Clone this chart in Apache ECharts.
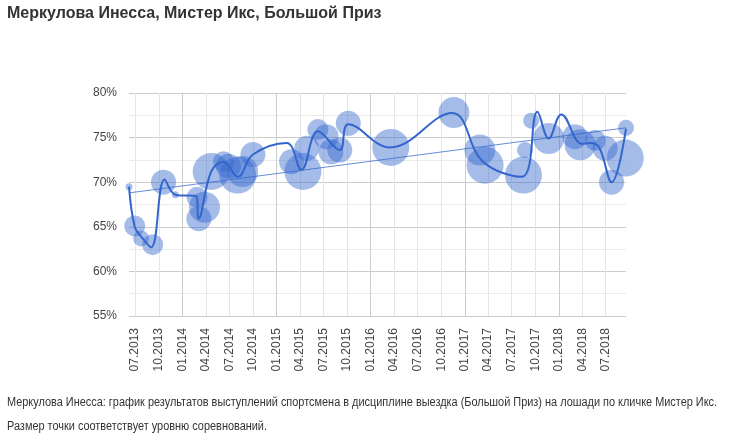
<!DOCTYPE html>
<html>
<head>
<meta charset="utf-8">
<script src="https://cdn.jsdelivr.net/npm/echarts@6/dist/echarts.min.js"></script>
<style>
html,body{margin:0;padding:0;background:#fff;}
#c{width:740px;height:443px;}
</style>
</head>
<body>
<div id="c"></div>
<script>
// ---- data ----
const titleText = 'Меркулова Инесса, Мистер Икс, Большой Приз';
const captionLine1 = 'Меркулова Инесса: график результатов выступлений спортсмена в дисциплине выездка (Большой Приз) на лошади по кличке Мистер Икс.';
const captionLine2 = 'Размер точки соответствует уровню соревнований.';

const tickLabels = ['07.2013','10.2013','01.2014','04.2014','07.2014','10.2014','01.2015','04.2015','07.2015','10.2015',
  '01.2016','04.2016','07.2016','10.2016','01.2017','04.2017','07.2017','10.2017','01.2018','04.2018','07.2018'];
const yTicks = [55, 60, 65, 70, 75, 80];

const bubbleDates = ['2013-06-07','2013-06-29','2013-07-24','2013-09-07','2013-10-19','2013-12-04','2014-02-26','2014-03-05',
  '2014-03-27','2014-04-22','2014-06-09','2014-06-28','2014-08-03','2014-08-22','2014-10-01','2015-02-28','2015-04-13',
  '2015-04-28','2015-06-10','2015-07-12','2015-07-31','2015-09-03','2015-10-06','2016-03-19','2016-11-19','2017-02-28',
  '2017-03-20','2017-08-16','2017-08-22','2017-09-15','2017-11-22','2018-03-04','2018-03-24','2018-05-22','2018-06-29',
  '2018-07-24','2018-09-15','2018-09-18'];
const bubbleValues = [69.5,65.1,63.7,63.0,70.0,68.6,68.3,65.9,
  67.2,71.2,72.3,71.8,70.8,71.2,73.1,72.3,71.2,
  73.8,75.9,75.1,73.4,73.6,76.6,73.9,77.8,73.6,
  71.9,70.8,73.6,76.9,74.9,75.1,74.2,74.7,73.8,
  70.0,72.7,76.1];
const bubbleLevels = [1,3,2,3,4,1,3,4,
  5,6,3,4,6,5,4,4,6,
  4,3,4,4,4,4,6,5,5,
  6,6,2,2,5,4,5,3,4,
  4,6,2];

const lineDates = ['2013-06-07','2013-06-29','2013-07-24','2013-09-01','2013-10-23','2013-12-04','2014-02-24','2014-03-04',
  '2014-04-22','2014-06-09','2014-08-03','2014-10-01','2015-02-09','2015-04-07','2015-06-10','2015-09-03','2015-10-06',
  '2016-03-16','2016-11-12','2017-03-12','2017-08-10','2017-10-09','2017-11-22','2018-01-10','2018-03-31','2018-05-01',
  '2018-06-06','2018-07-24','2018-09-18'];
const lineValues = [69.5,65.0,63.9,62.7,70.3,68.6,68.4,65.9,
  71.2,72.3,70.6,73.1,74.4,71.4,75.7,73.6,76.5,
  73.9,77.75,72.3,70.6,77.9,74.9,77.6,74.3,74.4,
  73.9,70.0,76.0];

const trendDates = ['2013-06-07','2018-09-18'];
const trendValues = [68.8, 76.1];

// ---- styling / mapping ----
const levelDiameter = {1:7, 2:16, 3:21, 4:25, 5:31, 6:37};
function toTime(s){ const p = s.split('-'); return new Date(+p[0], +p[1]-1, +(p[2]||1)).getTime(); }
const tickTimes = tickLabels.map(l => { const p = l.split('.'); return new Date(+p[1], +p[0]-1, 1).getTime(); });
const labelByTime = {}; tickTimes.forEach((t,i)=>{ labelByTime[t] = tickLabels[i]; });

const bubbleData = bubbleDates.map((d,i)=>[toTime(d), bubbleValues[i], bubbleLevels[i]]);
const lineData = lineDates.map((d,i)=>[toTime(d), lineValues[i]]);
const trendData = trendDates.map((d,i)=>[toTime(d), trendValues[i]]);

const FONT = '"Liberation Sans", Arial, sans-serif';
const chart = echarts.init(document.getElementById('c'), null, {renderer:'canvas'});
chart.setOption({
  animation: false,
  backgroundColor: '#fff',
  textStyle: {fontFamily: FONT},
  title: {
    text: titleText, left: 7, top: 6, padding: 0,
    textStyle: {fontSize: 16, fontWeight: 'bold', color: '#333', fontFamily: FONT}
  },
  graphic: [
    {type:'text', x: 7, y: 397, scaleX: 0.91, style:{text: captionLine1, fontSize: 12, fill:'#333', fontFamily: FONT}},
    {type:'text', x: 7, y: 421, scaleX: 0.91, style:{text: captionLine2, fontSize: 12, fill:'#333', fontFamily: FONT}}
  ],
  grid: {left: 129, right: 114, top: 93, bottom: 127, containLabel: false},
  xAxis: {
    type: 'value',
    min: bubbleData[0][0],
    max: bubbleData[bubbleData.length-1][0],
    axisLine: {show: false},
    axisTick: {show: false, customValues: tickTimes},
    splitLine: {show: true, lineStyle: {color: ['#e6e6e6','#e6e6e6','#cccccc','#e6e6e6'], width: 1}},
    axisLabel: {
      customValues: tickTimes, rotate: 90, margin: 12, fontSize: 12, color: '#444', fontFamily: FONT,
      formatter: v => labelByTime[v] || ''
    }
  },
  yAxis: {
    type: 'value', min: yTicks[0], max: yTicks[yTicks.length-1], interval: 5,
    axisLine: {show: false}, axisTick: {show: false},
    axisLabel: {formatter: '{value}%', fontSize: 12, color: '#444', margin: 12, fontFamily: FONT},
    splitLine: {show: true, lineStyle: {color: '#cccccc'}},
    minorTick: {show: false, splitNumber: 2},
    minorSplitLine: {show: true, lineStyle: {color: '#ebebeb'}}
  },
  series: [
    {
      type: 'scatter', data: bubbleData, clip: false,
      symbolSize: d => levelDiameter[d[2]],
      itemStyle: {color: 'rgba(51,102,204,0.55)', borderWidth: 0},
      z: 2
    },
    {
      type: 'line', data: trendData, clip: false, showSymbol: false, silent: true,
      lineStyle: {color: 'rgba(51,102,204,0.75)', width: 1},
      z: 3
    },
    {
      type: 'line', data: lineData, clip: false, showSymbol: false, smooth: 0.4,
      lineStyle: {color: '#3366cc', width: 2},
      z: 4
    }
  ]
});
</script>
</body>
</html>
